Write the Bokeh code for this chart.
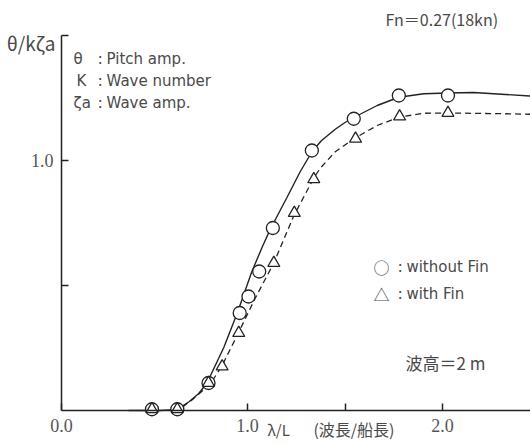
from bokeh.plotting import figure
from bokeh.models import Range1d, FixedTicker, Label, LinearAxis
from bokeh.embed import file_html
from bokeh.resources import INLINE

# data
cx = [0.51, 0.64, 0.80, 0.96, 1.005, 1.06, 1.13, 1.33, 1.545, 1.776, 2.028]
cy = [0.005, 0.005, 0.11, 0.39, 0.456, 0.556, 0.73, 1.04, 1.167, 1.26, 1.26]
tx = [0.51, 0.64, 0.80, 0.87, 0.955, 1.135, 1.24, 1.34, 1.554, 1.78, 2.028]
ty = [0.005, 0.005, 0.11, 0.176, 0.31, 0.59, 0.79, 0.925, 1.087, 1.176, 1.19]
sx = [0.39, 0.55, 0.62, 0.656, 0.70, 0.75, 0.793, 0.879, 0.947, 0.978, 1.021, 1.075, 1.118,
      1.203, 1.27, 1.332, 1.38, 1.45, 1.50, 1.545, 1.665, 1.776, 1.904, 2.03, 2.16, 2.323, 2.45]
sy = [0.0, 0.0, 0.003, 0.013, 0.035, 0.068, 0.111, 0.253, 0.389, 0.457, 0.553, 0.653, 0.727,
      0.853, 0.955, 1.037, 1.08, 1.125, 1.152, 1.172, 1.22, 1.253, 1.267, 1.27, 1.272, 1.264, 1.258]
dx = [0.62, 0.66, 0.72, 0.81, 0.87, 0.955, 1.04, 1.135, 1.238, 1.34, 1.374, 1.45, 1.545,
      1.665, 1.776, 1.904, 2.03, 2.323, 2.45]
dy = [0.0, 0.01, 0.045, 0.107, 0.18, 0.313, 0.45, 0.59, 0.78, 0.93, 0.97, 1.035, 1.087,
      1.14, 1.173, 1.189, 1.19, 1.187, 1.185]
xticks = [0.0462, 1.0, 1.5, 2.0]
xlabels = {0.0462: "0.0", 1.0: "1.0", 1.5: "", 2.0: "2.0"}
yticks = [0.5, 1.0, 1.5]
ylabels = {0.5: "", 1.0: "1.0", 1.5: ""}

INK = "#222222"
TXT = "#4a4a4a"
JP = "Noto Sans CJK JP"
LAT = "DejaVu Sans"

p = figure(width=530, height=444, output_backend="svg", toolbar_location=None,
           x_range=Range1d(-0.2667, 2.4513), y_range=Range1d(-0.136, 1.64),
           x_axis_type=None, y_axis_type=None, min_border=0)
p.outline_line_color = None
p.background_fill_color = "white"

xa = LinearAxis(fixed_location=0, bounds=(0.0462, 2.4513), ticker=FixedTicker(ticks=xticks),
                major_label_overrides=xlabels)
ya = LinearAxis(fixed_location=0.0462, bounds=(0, 1.5), ticker=FixedTicker(ticks=yticks),
                major_label_overrides=ylabels)
for ax in (xa, ya):
    ax.axis_line_color = INK
    ax.axis_line_width = 1.5
    ax.major_tick_in = 7
    ax.major_tick_out = 0
    ax.major_tick_line_color = INK
    ax.major_tick_line_width = 1.5
    ax.minor_tick_line_color = None
    ax.major_label_text_font = "Liberation Serif"
    ax.major_label_text_font_size = "18px"
    ax.major_label_text_color = "#555555"
    ax.major_label_standoff = 8
p.add_layout(xa, "below")
p.add_layout(ya, "left")

p.line(sx, sy, line_color=INK, line_width=1.4)
p.line(dx, dy, line_color=INK, line_width=1.3, line_dash="6 4")
p.scatter(cx, cy, marker="circle", size=13, fill_color="white", line_color=INK, line_width=1.3)
p.scatter(tx, ty, marker="triangle", size=12, fill_color="white", line_color=INK, line_width=1.3)

def lab(x, y, t, size="15px", align="left", baseline="middle", font=LAT):
    p.add_layout(Label(x=x, y=y, text=t, text_font=font, text_font_size=size,
                       text_color=TXT, text_align=align, text_baseline=baseline))

lab(0.015, 1.472, "θ/kζa", size="19px", align="right", font=JP)
lab(1.708, 1.568, "Fn＝0.27(18kn)", size="16px", font=JP)
lab(0.108, 1.408, "θ")
lab(0.123, 1.320, "K")
lab(0.108, 1.232, "ζa")
for yy in (1.408, 1.320, 1.232):
    lab(0.231, yy, ":", size="16px")
lab(0.277, 1.408, "Pitch amp.")
lab(0.277, 1.320, "Wave number")
lab(0.277, 1.232, "Wave amp.")
lab(1.646, 0.576, "○", size="16px", font=JP)
lab(1.646, 0.468, "△", size="16px", font=JP)
lab(1.769, 0.576, ":", size="16px")
lab(1.769, 0.468, ":", size="16px")
lab(1.815, 0.576, "without Fin")
lab(1.815, 0.468, "with Fin")
lab(1.81, 0.192, "波高＝2 m", size="17px", font=JP)
lab(1.103, -0.074, "λ/L", size="15px", font=JP)
lab(1.338, -0.074, "(波長/船長)", size="16px", font=JP)

open("out.html", "w").write(file_html(p, INLINE))
